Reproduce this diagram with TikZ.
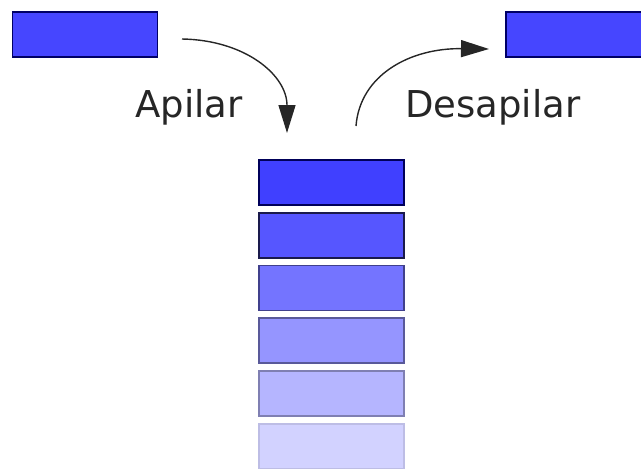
\documentclass[tikz,border=0pt]{standalone}
\usepackage{fontspec}
\setmainfont{DejaVu Sans}
\usetikzlibrary{arrows.meta}
\definecolor{c1}{HTML}{4040FF}
\definecolor{c2}{HTML}{5656FF}
\definecolor{c3}{HTML}{7474FF}
\definecolor{c4}{HTML}{9595FF}
\definecolor{c5}{HTML}{B5B5FF}
\definecolor{c6}{HTML}{D2D2FF}
\definecolor{topc}{HTML}{4646FF}
\tikzset{
  blk/.style={draw, line width=1.2pt, minimum width=145pt, minimum height=45pt, inner sep=0pt, outer sep=0pt},
  lbl/.style={anchor=base west, inner sep=0pt, font=\fontsize{37}{40}\selectfont, text=black!85},
  arr/.style={draw=black!85, line width=1.4pt, -{Triangle[length=28pt,width=17pt]}}
}
\begin{document}
\begin{tikzpicture}[x=1pt,y=-1pt]
\useasboundingbox (0,0) rectangle (641,469);
\clip (0,0) rectangle (641,469);
\node[blk, fill=topc, draw=black!60!blue] (src) at (85,34.5) {};
\node[blk, fill=topc, draw=black!60!blue, anchor=west] (dst) at (506,34.5) {};
\node[blk, fill=c1, draw=black!65!blue] (s1) at (331.5,182.5) {};
\node[blk, fill=c2, draw=black!70!c2] (s2) at (331.5,235.5) {};
\node[blk, fill=c3, draw=black!45!c3] (s3) at (331.5,288) {};
\node[blk, fill=c4, draw=black!40!c4] (s4) at (331.5,340.5) {};
\node[blk, fill=c5, draw=black!30!c5] (s5) at (331.5,393.5) {};
\node[blk, fill=c6, draw=black!10!c6] (s6) at (331.5,446.5) {};
\node[lbl] (apilar) at (135,117) {Apilar};
\node[lbl] (desapilar) at (405,117) {Desapilar};
\coordinate (a0) at (182,39);
\coordinate (a1) at (287,133);
\coordinate (d0) at (356,126);
\coordinate (d1) at (489,49);
\draw[arr] (a0) .. controls (245,40) and (287,75) .. (a1);
\draw[arr] (d0) .. controls (360,75) and (410,48) .. (d1);
\end{tikzpicture}
\end{document}
